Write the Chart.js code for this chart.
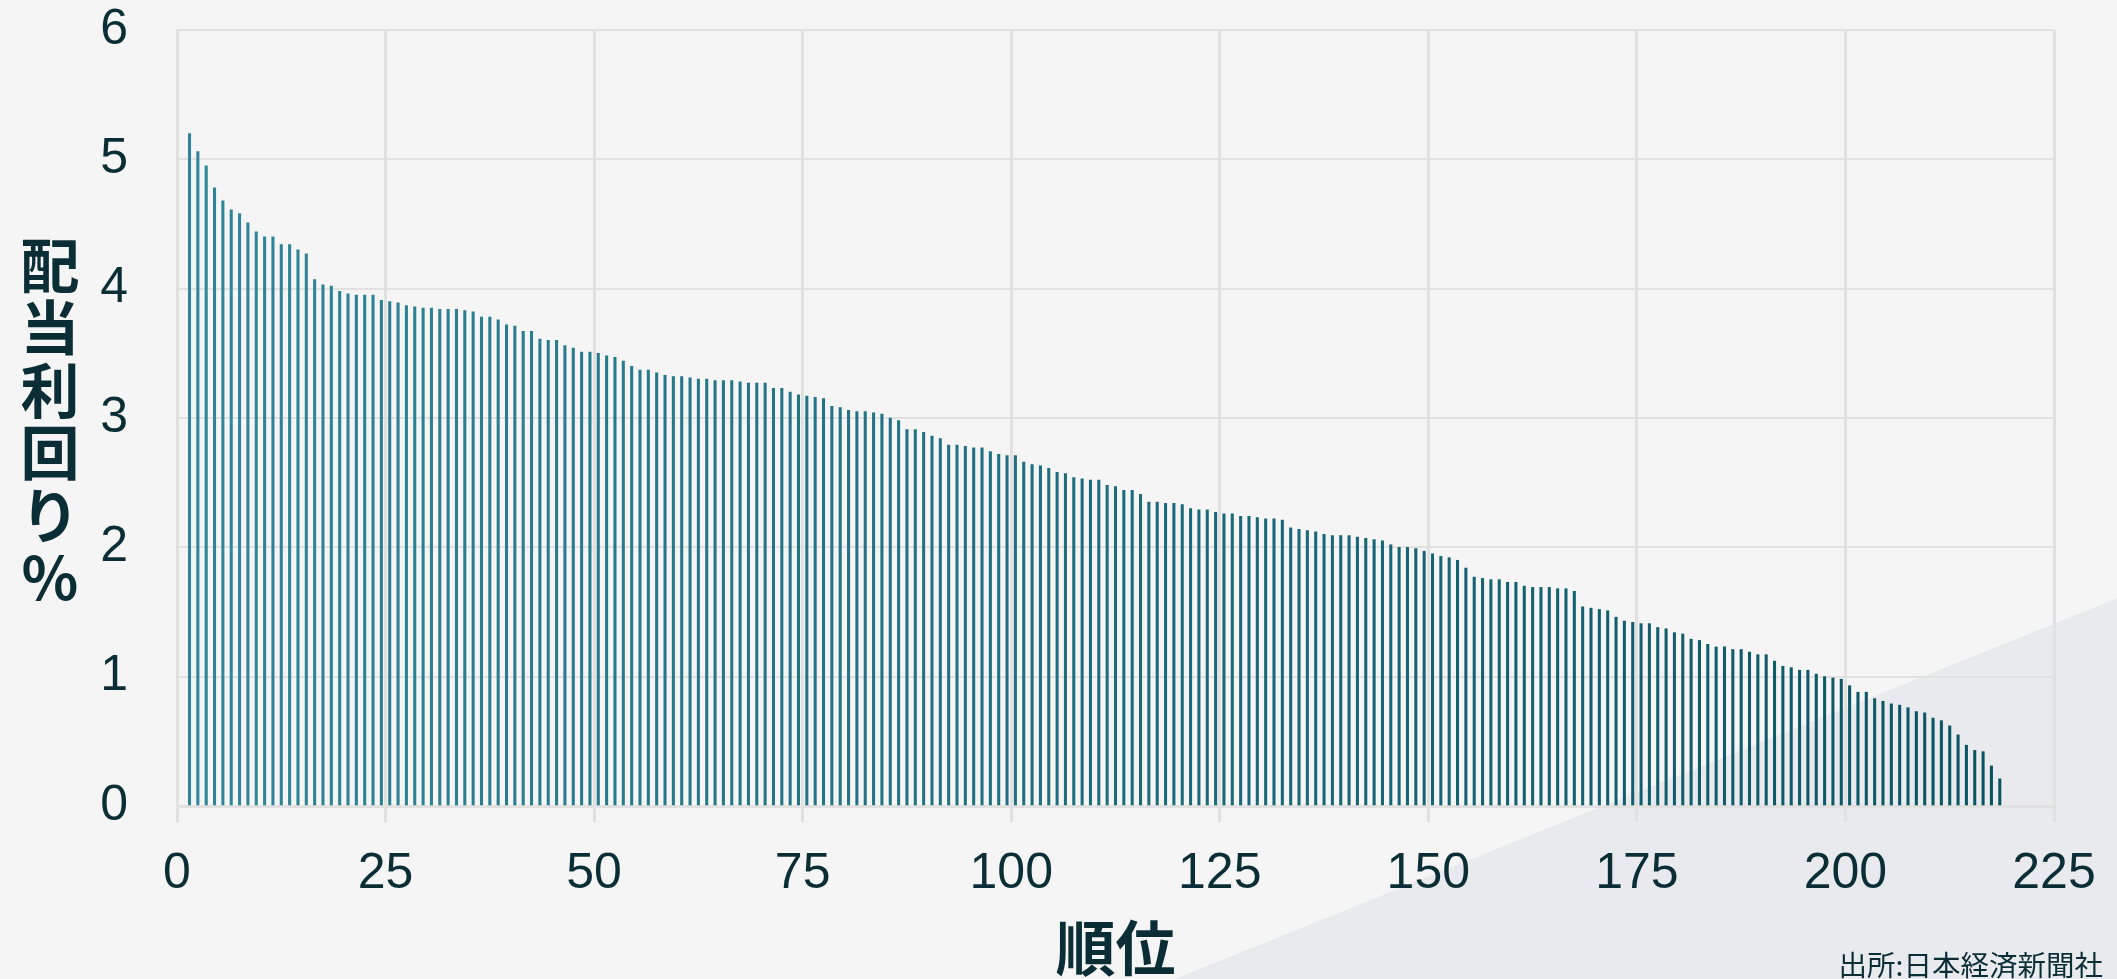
<!DOCTYPE html>
<html lang="ja">
<head>
<meta charset="utf-8">
<title>配当利回り 順位</title>
<script src="https://cdn.jsdelivr.net/npm/chart.js@4.4.1/dist/chart.umd.min.js"></script>
<style>
  html, body { margin: 0; padding: 0; background: #f5f5f5; overflow: hidden; }
  #wrap { position: absolute; left: 0; top: 0; width: 2117px; height: 979px; }
  #yTitle {
    position: absolute; left: 0; top: 232px; width: 100px;
    text-align: center; font: bold 59px "Noto Sans CJK JP", sans-serif;
    line-height: 62.4px; color: #0b2e36;
  }
  #source {
    position: absolute; right: 14px; top: 945px;
    font: 28.5px "Noto Sans CJK JP", sans-serif; color: #0b2e36; line-height: 38px;
  }
</style>
</head>
<body>
<div id="wrap">
  <canvas id="chart-yield" width="2117" height="979"></canvas>
  <div id="yTitle">配<br>当<br>利<br>回<br>り<br>%</div>
  <div id="source">出所:日本経済新聞社</div>
</div>
<script>
// 配当利回り(%) 順位1〜218
const yields = [
  5.20, 5.06, 4.95, 4.78, 4.68, 4.61, 4.58, 4.51, 4.44, 4.40,
  4.40, 4.34, 4.34, 4.30, 4.27, 4.07, 4.03, 4.02, 3.98, 3.96,
  3.95, 3.95, 3.95, 3.91, 3.90, 3.89, 3.87, 3.86, 3.85, 3.85,
  3.84, 3.84, 3.84, 3.83, 3.82, 3.78, 3.78, 3.76, 3.72, 3.71,
  3.67, 3.67, 3.61, 3.60, 3.60, 3.56, 3.54, 3.51, 3.51, 3.50,
  3.48, 3.47, 3.44, 3.40, 3.37, 3.37, 3.35, 3.33, 3.32, 3.32,
  3.31, 3.30, 3.30, 3.29, 3.29, 3.29, 3.28, 3.27, 3.27, 3.27,
  3.23, 3.23, 3.20, 3.18, 3.17, 3.16, 3.15, 3.09, 3.08, 3.06,
  3.05, 3.05, 3.04, 3.03, 3.00, 2.98, 2.91, 2.91, 2.89, 2.86,
  2.84, 2.79, 2.79, 2.78, 2.77, 2.77, 2.74, 2.72, 2.71, 2.71,
  2.66, 2.64, 2.63, 2.61, 2.58, 2.57, 2.54, 2.53, 2.52, 2.52,
  2.48, 2.47, 2.44, 2.44, 2.41, 2.35, 2.35, 2.34, 2.34, 2.33,
  2.30, 2.29, 2.29, 2.27, 2.26, 2.26, 2.24, 2.24, 2.23, 2.22,
  2.22, 2.21, 2.15, 2.14, 2.13, 2.12, 2.10, 2.09, 2.09, 2.09,
  2.08, 2.07, 2.06, 2.05, 2.02, 2.00, 2.00, 1.99, 1.97, 1.95,
  1.93, 1.92, 1.90, 1.84, 1.77, 1.76, 1.75, 1.75, 1.73, 1.73,
  1.70, 1.69, 1.69, 1.69, 1.68, 1.68, 1.66, 1.54, 1.53, 1.52,
  1.51, 1.46, 1.43, 1.42, 1.41, 1.41, 1.38, 1.37, 1.34, 1.33,
  1.29, 1.28, 1.25, 1.23, 1.23, 1.21, 1.21, 1.19, 1.17, 1.17,
  1.12, 1.08, 1.07, 1.05, 1.05, 1.02, 1.00, 0.99, 0.98, 0.93,
  0.88, 0.88, 0.83, 0.81, 0.79, 0.78, 0.76, 0.73, 0.72, 0.68,
  0.66, 0.62, 0.55, 0.47, 0.43, 0.42, 0.31, 0.21
];
const ranks = yields.map((_, i) => i + 1);
const xTicks = [0, 25, 50, 75, 100, 125, 150, 175, 200, 225];
const yTicks = [0, 1, 2, 3, 4, 5, 6];

// each rank occupies [n, n+1], bar drawn in the middle
const RANK_CENTER = 0.5;

const TEXT = '#0b2e36';
const GRID = '#e1e1e1';
const FONT = '"Liberation Sans", Arial, sans-serif';

// bar colour drifts from lighter teal to dark teal along the ranks
function barColor(i) {
  const t = i / (yields.length - 1);
  const a = [48, 134, 152], b = [10, 84, 98];
  const c = a.map((v, k) => Math.round(v + (b[k] - v) * t));
  return `rgb(${c[0]},${c[1]},${c[2]})`;
}

const backdrop = {
  id: 'backdrop',
  beforeDraw(chart) {
    const { ctx, width, height } = chart;
    ctx.save();
    ctx.fillStyle = '#f5f5f5';
    ctx.fillRect(0, 0, width, height);
    // pale wedge bottom-right
    ctx.fillStyle = '#e9eaed';
    ctx.beginPath();
    ctx.moveTo(width * 0.555, height);
    ctx.lineTo(width, height * 0.611);
    ctx.lineTo(width, height);
    ctx.closePath();
    ctx.fill();
    ctx.restore();
  }
};

const ctx = document.getElementById('chart-yield').getContext('2d');
new Chart(ctx, {
  type: 'bar',
  data: {
    datasets: [{
      label: '配当利回り',
      data: ranks.map((r, i) => ({ x: r + RANK_CENTER, y: yields[i] })),
      backgroundColor: yields.map((_, i) => barColor(i)),
      barThickness: 2.4,
      borderWidth: 0
    }]
  },
  options: {
    responsive: false,
    animation: false,
    layout: { padding: { top: 30, right: 63, bottom: 0, left: 0 } },
    plugins: { legend: { display: false }, tooltip: { enabled: false } },
    scales: {
      x: {
        type: 'linear',
        min: xTicks[0], max: xTicks[xTicks.length - 1],
        offset: false,
        afterBuildTicks: s => { s.ticks = xTicks.map(v => ({ value: v })); },
        afterFit: s => { s.height = 173; s.paddingLeft = 0; s.paddingRight = 0; },
        ticks: { color: TEXT, font: { family: FONT, size: 50 }, padding: 22, maxRotation: 0 },
        grid: { color: GRID, lineWidth: 3, tickLength: 16, offset: false },
        border: { color: GRID, width: 3 },
        title: {
          display: true, text: '順位', color: TEXT,
          font: { family: '"Noto Sans CJK JP", sans-serif', size: 60, weight: 'bold', lineHeight: 1 },
          padding: { top: 0, bottom: 1 }
        }
      },
      y: {
        min: yTicks[0], max: yTicks[yTicks.length - 1],
        afterBuildTicks: s => { s.ticks = yTicks.map(v => ({ value: v })); },
        afterFit: s => { s.width = 177; s.paddingTop = 0; s.paddingBottom = 0; },
        ticks: { color: TEXT, font: { family: FONT, size: 50 }, padding: 49 },
        grid: { color: GRID, lineWidth: 2, drawTicks: false },
        border: { color: GRID, width: 3 }
      }
    }
  },
  plugins: [backdrop]
});
</script>
</body>
</html>
